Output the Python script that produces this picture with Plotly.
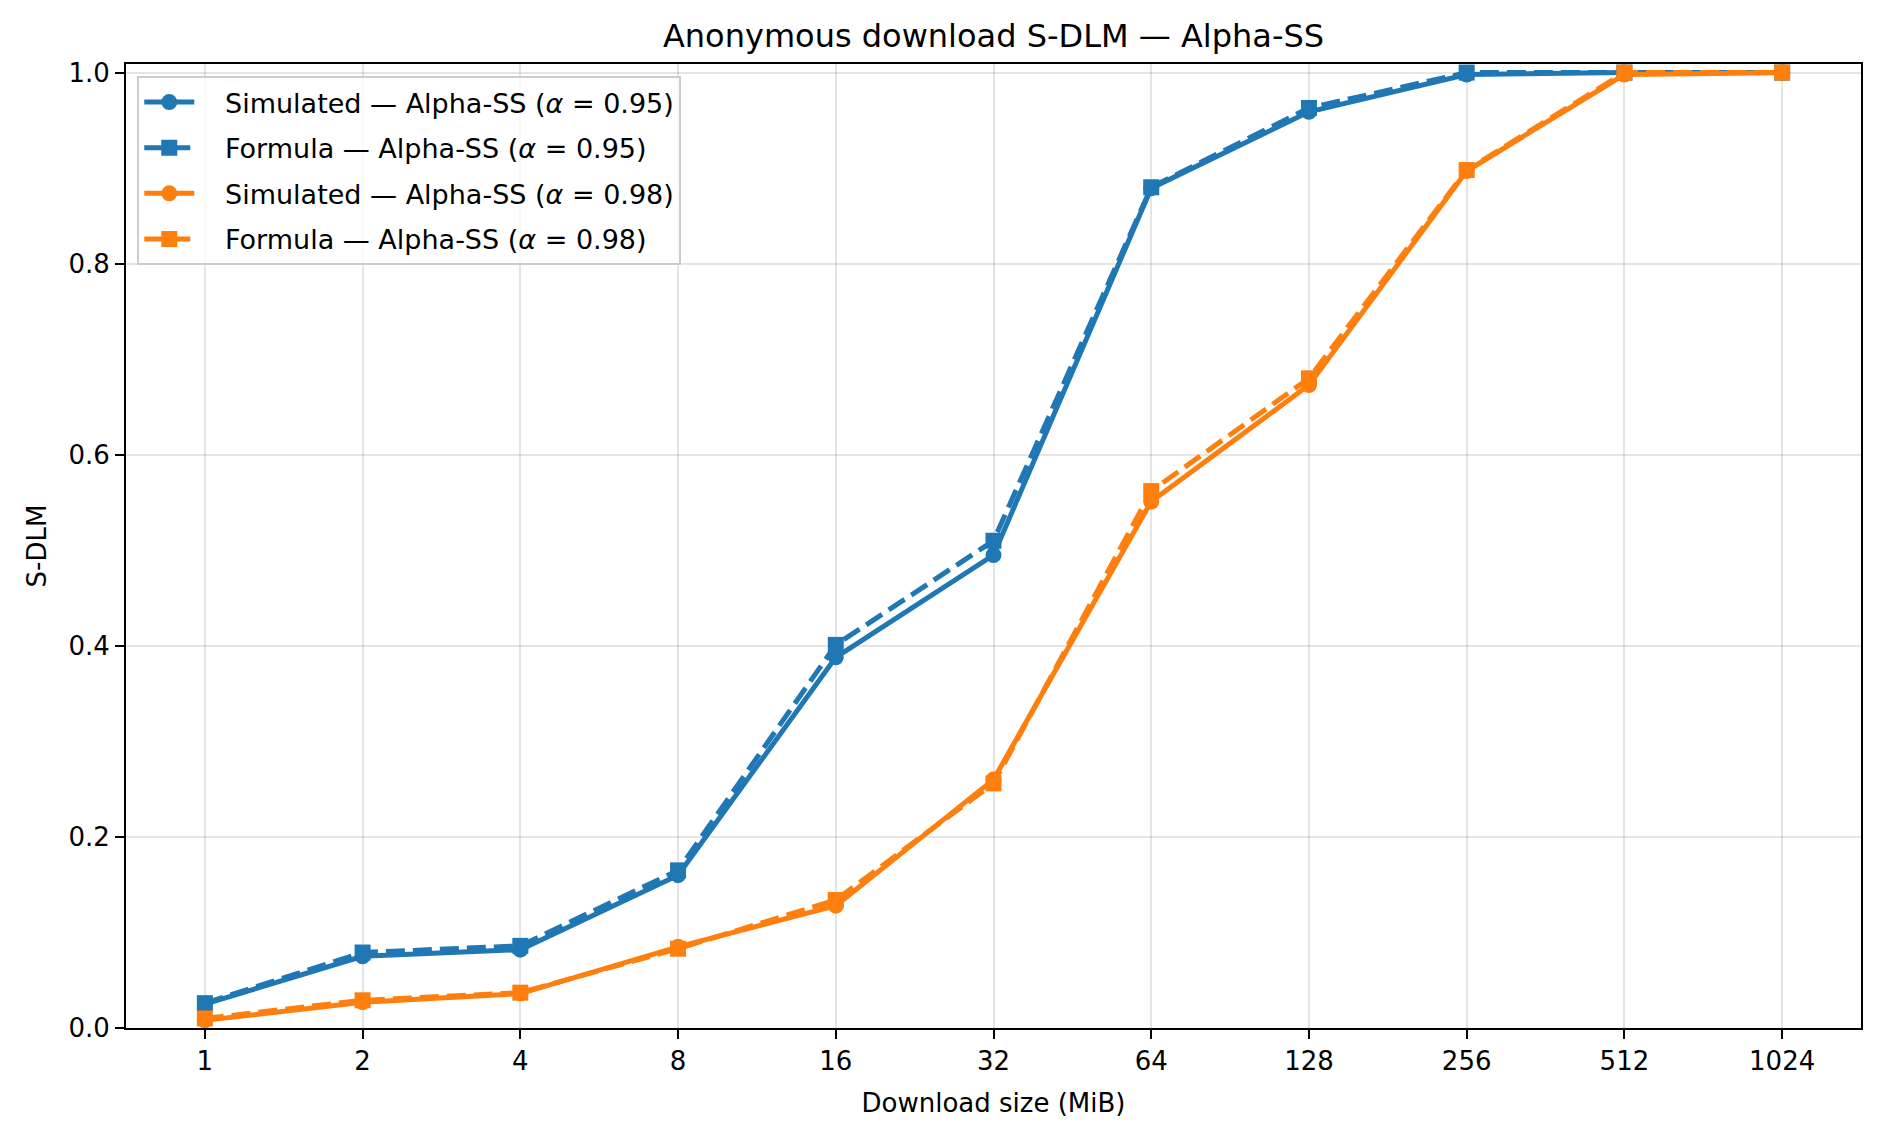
import plotly.graph_objects as go

# Download sizes (MiB)
sizes = [1, 2, 4, 8, 16, 32, 64, 128, 256, 512, 1024]
tick_labels = ["1", "2", "4", "8", "16", "32", "64", "128", "256", "512", "1024"]

# S-DLM values
sim_095 = [0.025, 0.075, 0.082, 0.160, 0.388, 0.495, 0.879, 0.959, 0.998, 1.000, 1.000]
form_095 = [0.026, 0.079, 0.086, 0.165, 0.401, 0.510, 0.880, 0.963, 1.000, 1.000, 1.000]
sim_098 = [0.008, 0.027, 0.036, 0.085, 0.128, 0.260, 0.551, 0.673, 0.897, 0.998, 1.000]
form_098 = [0.010, 0.029, 0.037, 0.083, 0.134, 0.256, 0.562, 0.680, 0.898, 1.000, 1.000]

bleu = "#1f77b4"
orange = "#ff7f0e"
tirets = "19px,8px"
espace = "\u00a0\u00a0\u00a0"  # petit décalage du texte de légende

series = [
    ("Simulated — Alpha-SS (<i>α</i> = 0.95)", sim_095, bleu, "solid", "circle"),
    ("Formula — Alpha-SS (<i>α</i> = 0.95)", form_095, bleu, tirets, "square"),
    ("Simulated — Alpha-SS (<i>α</i> = 0.98)", sim_098, orange, "solid", "circle"),
    ("Formula — Alpha-SS (<i>α</i> = 0.98)", form_098, orange, tirets, "square"),
]

fig = go.Figure()
for i, (nom, valeurs, couleur, trait, symbole) in enumerate(series):
    fig.add_trace(go.Scatter(
        x=sizes, y=valeurs, name=espace + nom, mode="lines+markers",
        legendgroup=f"g{i}",
        line=dict(color=couleur, width=5, dash=trait),
        marker=dict(color=couleur, size=16, symbol=symbole),
    ))

axe = dict(
    showline=True, linecolor="black", linewidth=2, mirror=True,
    ticks="outside", ticklen=9, tickwidth=2, tickcolor="black",
    showgrid=True, gridcolor="rgba(0,0,0,0.1)", gridwidth=2,
    zeroline=False, tickfont=dict(size=26, color="black"),
)

fig.update_layout(
    width=1880, height=1137,
    margin=dict(l=118, r=27, t=56, b=117),
    paper_bgcolor="white", plot_bgcolor="white",
    font=dict(family="DejaVu Sans", color="black", size=26),
    title=dict(text="Anonymous download S-DLM — Alpha-SS", x=0.5, xref="paper",
               y=1 - 28 / 1137, yanchor="middle", font=dict(size=32)),
    xaxis=dict(axe, type="log", tickvals=sizes, ticktext=tick_labels,
               range=[-0.5 * 0.30103, 10.5 * 0.30103],
               title=dict(text="Download size (MiB)", font=dict(size=26), standoff=19)),
    yaxis=dict(axe, range=[0, 1.009], tickvals=[0, 0.2, 0.4, 0.6, 0.8, 1.0],
               tickformat=".1f",
               title=dict(text="S-DLM", font=dict(size=26), standoff=14)),
    legend=dict(x=0.0065, y=0.9875, xanchor="left", yanchor="top",
                bgcolor="rgba(255,255,255,0.8)", bordercolor="#cccccc", borderwidth=2,
                font=dict(size=27), traceorder="grouped", tracegroupgap=7.5,
                itemwidth=50),
)

fig.write_html("out.html")
